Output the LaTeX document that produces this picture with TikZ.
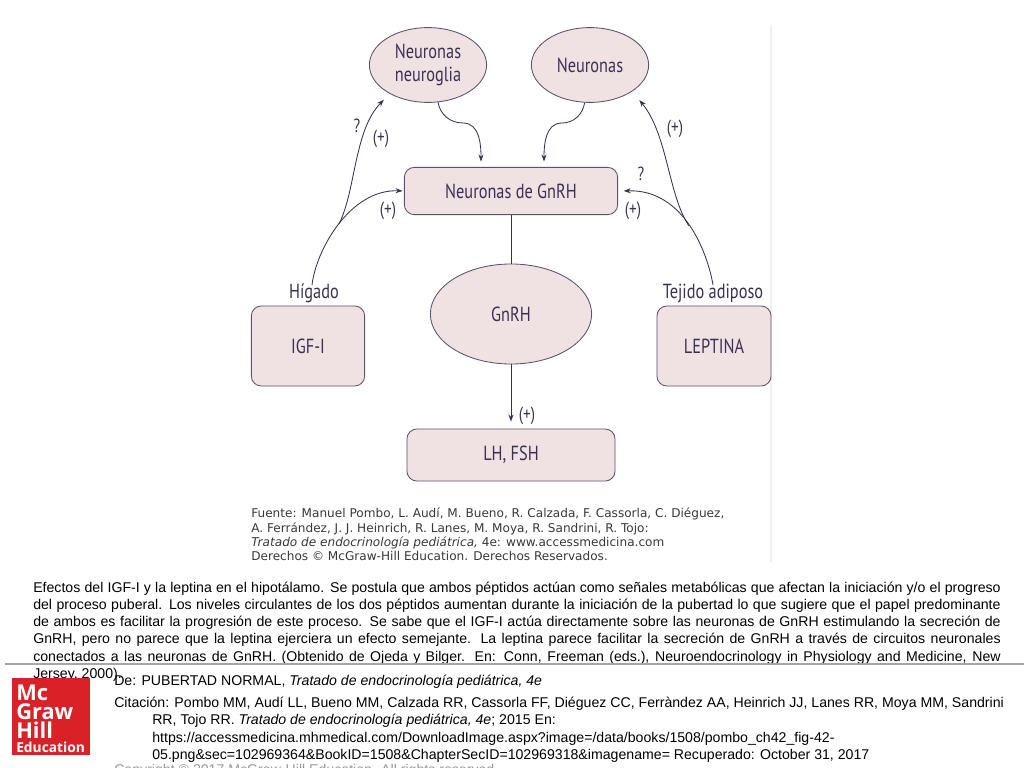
\documentclass[tikz,border=0pt]{standalone}
\usepackage{fontspec}
\usetikzlibrary{shapes.geometric,arrows.meta}
\setmainfont{Liberation Sans}
\newfontfamily\diagfont[FakeStretch=0.8]{PT Sans}
\newfontfamily\sourcefont{DejaVu Sans}
\newfontfamily\logofont{Open Sans}
\definecolor{cellfill}{HTML}{F0E2E2}
\definecolor{cellline}{HTML}{5A5070}
\definecolor{cellink}{HTML}{3B3052}
\definecolor{logored}{HTML}{DA2128}
\tikzset{
    oval/.style={ellipse,draw=cellline,fill=cellfill,semithick,inner sep=0pt,font=\diagfont\fontsize{14.5}{16}\selectfont,text=cellink,align=center},
    panel/.style={rectangle,rounded corners=7pt,draw=cellline,fill=cellfill,semithick,inner sep=0pt,font=\diagfont\fontsize{14.5}{16}\selectfont,text=cellink,align=center},
    mark label/.style={inner sep=0pt,font=\diagfont\fontsize{13.5}{15}\selectfont,text=cellink},
    signal/.style={cellink,line width=0.6pt,-{Stealth[length=5pt,width=3.6pt]},shorten >=1pt},
    body text/.style={inner sep=0pt,font=\fontsize{10.05}{12.25}\selectfont},
}
\begin{document}
\begin{tikzpicture}[x=0.025cm,y=-0.025cm]
    \useasboundingbox (0,0) rectangle (1024,768);
    \fill[white] (0,0) rectangle (1024,768);
    \draw[black!6,line width=0.8pt] (771,25)--(771,562);
    % ovals and panels
    \node[oval,minimum width=2.93cm,minimum height=1.87cm] (neuroglia) at (428,65) {Neuronas\\neuroglia};
    \node[oval,minimum width=2.93cm,minimum height=1.87cm] (neuronas) at (590,65) {Neuronas};
    \node[panel,minimum width=5.33cm,minimum height=1.18cm] (gnrhcells) at (511,191) {Neuronas de GnRH};
    \node[oval,minimum width=4.03cm,minimum height=2.5cm] (gnrh) at (511,314) {GnRH};
    \node[panel,minimum width=2.83cm,minimum height=2cm] (igf) at (308,346) {IGF-I};
    \node[panel,minimum width=2.85cm,minimum height=2cm] (leptina) at (714,346) {LEPTINA};
    \node[panel,minimum width=5.2cm,minimum height=1.3cm] (lhfsh) at (511,455) {LH, FSH};
    % names above the two sources
    \node[mark label,font=\diagfont\fontsize{14.5}{16}\selectfont] (higado) at (314,293) {Hígado};
    \node[mark label,font=\diagfont\fontsize{14.5}{16}\selectfont] (tejido) at (713,293) {Tejido adiposo};
    % way points
    \coordinate (dipleft) at (463,123);
    \coordinate (dipright) at (562,123);
    \coordinate (inleft) at (481,163);
    \coordinate (inright) at (544,163);
    \coordinate (forkleft) at (339,224);
    \coordinate (forkright) at (689,226);
    \coordinate (higadotop) at (312,285);
    \coordinate (tejidotop) at (713,285);
    % connectors
    \draw[signal] (neuroglia.285) to [out=-80,in=180] (dipleft) to [out=0,in=90] (inleft);
    \draw[signal] (neuronas.262) to [out=-100,in=0] (dipright) to [out=180,in=90] (inright);
    \draw[signal] (higadotop) .. controls (316,250) and (350,189) .. (gnrhcells.west);
    \draw[signal] (tejidotop) .. controls (708,255) and (685,189) .. ([xshift=3pt]gnrhcells.east);
    \draw[signal,shorten >=6pt] (forkleft) .. controls (356,190) and (354,130) .. (neuroglia.217);
    \draw[signal,shorten >=8pt] (forkright) .. controls (668,195) and (668,135) .. (neuronas.328);
    \draw[cellink,line width=0.7pt] (gnrhcells.south)--(gnrh.north);
    \draw[signal,shorten >=5pt] (gnrh.south)--(lhfsh.north);
    % signs
    \node[mark label] (askleft) at (357,126) {?};
    \node[mark label] (plusa) at (381,139) {(+)};
    \node[mark label] (plusb) at (388,211) {(+)};
    \node[mark label] (plusc) at (675,129) {(+)};
    \node[mark label] (askright) at (641,174) {?};
    \node[mark label] (plusd) at (633,211) {(+)};
    \node[mark label] (pluse) at (527,416) {(+)};
    % source block
    \node[anchor=north west,inner sep=0pt,align=left,text=black!78,font=\sourcefont\fontsize{8.6}{10.2}\selectfont] (fuente) at (251,508) {Fuente: Manuel Pombo, L. Audí, M. Bueno, R. Calzada, F. Cassorla, C. Diéguez,\\
    A. Ferrández, J. J. Heinrich, R. Lanes, M. Moya, R. Sandrini, R. Tojo:\\
    \textit{Tratado de endocrinología pediátrica,} 4e: www.accessmedicina.com\\
    Derechos © McGraw-Hill Education. Derechos Reservados.};
    % caption
    \node[body text,anchor=north west,text width=24.18cm,align=justify] (caption) at (33,581.5) {Efectos del IGF-I y la leptina en el hipotálamo. Se postula que ambos péptidos actúan como señales metabólicas que afectan la iniciación y/o el progreso\linebreak
    del proceso puberal. Los niveles circulantes de los dos péptidos aumentan durante la iniciación de la pubertad lo que sugiere que el papel predominante\linebreak
    de ambos es facilitar la progresión de este proceso. Se sabe que el IGF-I actúa directamente sobre las neuronas de GnRH estimulando la secreción de\linebreak
    GnRH, pero no parece que la leptina ejerciera un efecto semejante. La leptina parece facilitar la secreción de GnRH a través de circuitos neuronales\linebreak
    conectados a las neuronas de GnRH. (Obtenido de Ojeda y Bilger. En: Conn, Freeman (eds.), Neuroendocrinology in Physiology and Medicine, New\linebreak
    Jersey, 2000).};
    \draw[black!35,line width=1pt] (5,664)--(1024,664);
    % logo
    \node[fill=logored,inner sep=0pt,minimum width=1.95cm,minimum height=1.93cm] (logo) at (51,716.5) {};
    \node[anchor=west,inner sep=0pt,text=white,font=\logofont\bfseries\fontsize{15.5}{13.6}\selectfont,align=left] (logotext) at (16,712) {Mc\\Graw\\Hill};
    \node[anchor=west,inner sep=0pt,text=white,font=\logofont\bfseries\fontsize{9.8}{10}\selectfont] (logosub) at (16,747) {Education};
    % citation
    \node[body text,anchor=west] (de) at (114,682) {De: PUBERTAD NORMAL, \textit{Tratado de endocrinología pediátrica, 4e}};
    \node[body text,anchor=north west,align=left] (cita) at (114,697) {Citación: Pombo MM, Audí LL, Bueno MM, Calzada RR, Cassorla FF, Diéguez CC, Ferràndez AA, Heinrich JJ, Lanes RR, Moya MM, Sandrini\\
    \hspace*{0.95cm}RR, Tojo RR. \textit{Tratado de endocrinología pediátrica, 4e}; 2015 En:\\
    \hspace*{0.95cm}https://accessmedicina.mhmedical.com/DownloadImage.aspx?image=/data/books/1508/pombo\_ch42\_fig-42-\\
    \hspace*{0.95cm}05.png\&sec=102969364\&BookID=1508\&ChapterSecID=102969318\&imagename= Recuperado: October 31, 2017};
    \node[body text,anchor=west,text=black!40] (copy) at (114,771) {Copyright © 2017 McGraw-Hill Education. All rights reserved};
\end{tikzpicture}
\end{document}
